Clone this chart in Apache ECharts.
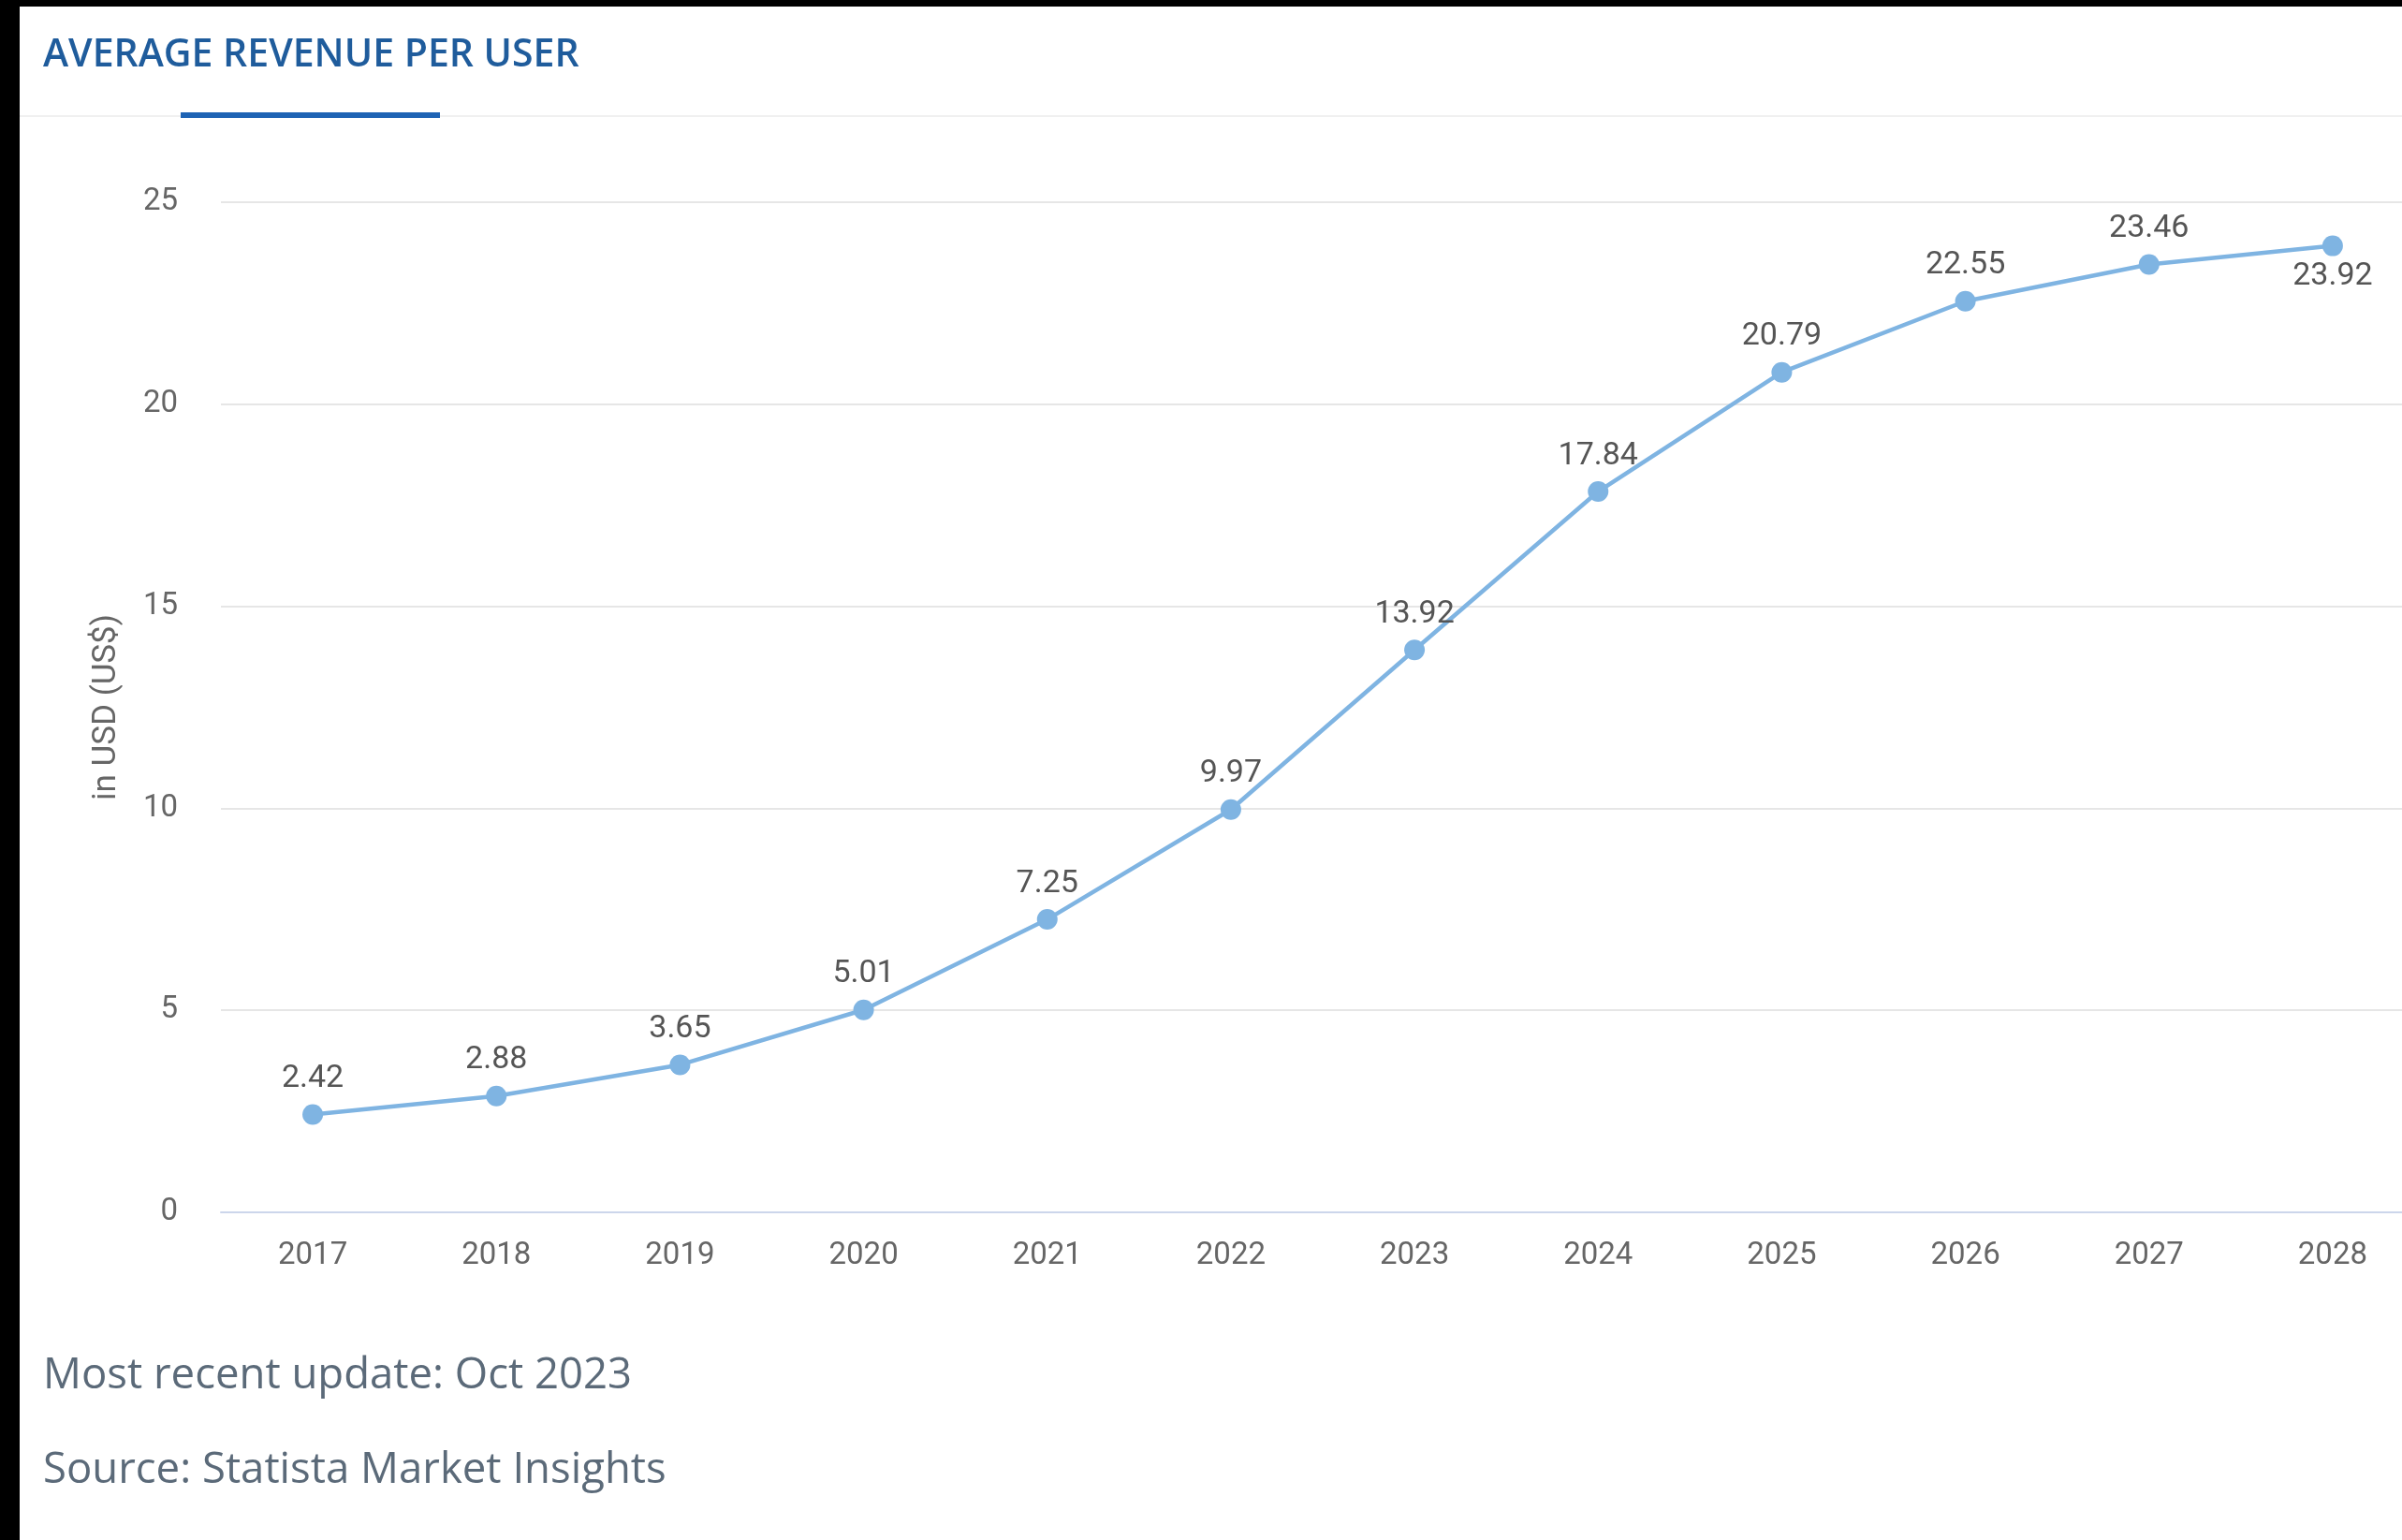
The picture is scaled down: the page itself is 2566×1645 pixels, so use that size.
<!DOCTYPE html>
<html lang="en">
<head>
    <meta charset="UTF-8">
    <title>Average revenue per user</title>
    <style>
        html, body {
            margin: 0;
            padding: 0;
            height: 100%;
            overflow: hidden;
            background: #fff;
        }
        /* the original screenshot cuts the plot off on the right, so the canvas is a bit wider than the window */
        #main {
            width: 2590px;
            height: 1645px;
        }
    </style>
</head>
<body>
<div id="main"></div>
<script src="https://cdn.jsdelivr.net/npm/echarts@6/dist/echarts.min.js"></script>
<script>
    // data
    var years = ['2017', '2018', '2019', '2020', '2021', '2022', '2023', '2024', '2025', '2026', '2027', '2028'];
    var arpu = [2.42, 2.88, 3.65, 5.01, 7.25, 9.97, 13.92, 17.84, 20.79, 22.55, 23.46, 23.92];
    var yTicks = [0, 5, 10, 15, 20, 25];

    var chartTitle = 'AVERAGE REVENUE PER USER';
    var yName = 'in USD (US$)';
    var footLines = ['Most recent update: Oct 2023', 'Source: Statista Market Insights'];

    var lineColor = '#7fb4e2';
    var axisFont = 'Roboto';

    var myChart = echarts.init(document.getElementById('main'));

    // last point gets its label under the dot, like the original
    var seriesData = arpu.map(function (v, i) {
        if (i === arpu.length - 1) {
            return {value: v, label: {position: 'bottom', distance: 5}};
        }
        return v;
    });

    var option = {
        backgroundColor: '#ffffff',
        animation: false,
        grid: {
            left: 236,
            right: 0,
            top: 216,
            bottom: 350
        },
        xAxis: {
            type: 'category',
            data: years,
            boundaryGap: true,
            axisLine: {lineStyle: {color: '#ccd6eb', width: 2}},
            axisTick: {show: false},
            axisLabel: {
                color: '#666666',
                fontFamily: axisFont,
                fontSize: 33,
                margin: 30
            }
        },
        yAxis: {
            type: 'value',
            min: yTicks[0],
            max: yTicks[yTicks.length - 1],
            interval: 5,
            name: yName,
            nameLocation: 'middle',
            nameGap: 104,
            nameTextStyle: {
                color: '#666666',
                fontFamily: axisFont,
                fontSize: 35
            },
            axisLine: {show: false},
            axisTick: {show: false},
            axisLabel: {
                color: '#666666',
                fontFamily: axisFont,
                fontSize: 33,
                margin: 46
            },
            splitLine: {lineStyle: {color: '#e6e6e6', width: 2}}
        },
        series: [
            {
                type: 'line',
                data: seriesData,
                symbol: 'circle',
                symbolSize: 22,
                showAllSymbol: true,
                itemStyle: {color: lineColor},
                lineStyle: {color: lineColor, width: 4.5},
                label: {
                    show: true,
                    position: 'top',
                    distance: 10,
                    color: '#555555',
                    fontFamily: axisFont,
                    fontSize: 34,
                    formatter: function (p) {
                        return p.value.toFixed(2);
                    }
                }
            }
        ],
        graphic: [
            // black strips at the edges of the screenshot
            {type: 'rect', left: 0, top: 0, shape: {width: 21, height: 1645}, style: {fill: '#000'}, z: 100},
            {type: 'rect', left: 0, top: 0, shape: {width: 2590, height: 7}, style: {fill: '#000'}, z: 100},
            // header
            {
                type: 'text',
                x: 46,
                y: 59,
                style: {
                    text: chartTitle,
                    font: '600 41px "Open Sans"',
                    fill: '#1f5c9c',
                    verticalAlign: 'middle'
                }
            },
            {type: 'rect', left: 21, top: 123, shape: {width: 2569, height: 2}, style: {fill: '#f0f0f0'}},
            {type: 'rect', left: 193, top: 120, shape: {width: 277, height: 6}, style: {fill: '#1e63b4'}},
            // footer
            {
                type: 'text',
                x: 46,
                y: 1470,
                style: {
                    text: footLines[0],
                    font: '45.5px "Open Sans"',
                    fill: '#5b6a79',
                    verticalAlign: 'middle'
                }
            },
            {
                type: 'text',
                x: 46,
                y: 1571,
                style: {
                    text: footLines[1],
                    font: '45.5px "Open Sans"',
                    fill: '#5b6a79',
                    verticalAlign: 'middle'
                }
            }
        ]
    };

    myChart.setOption(option);
</script>
</body>
</html>
